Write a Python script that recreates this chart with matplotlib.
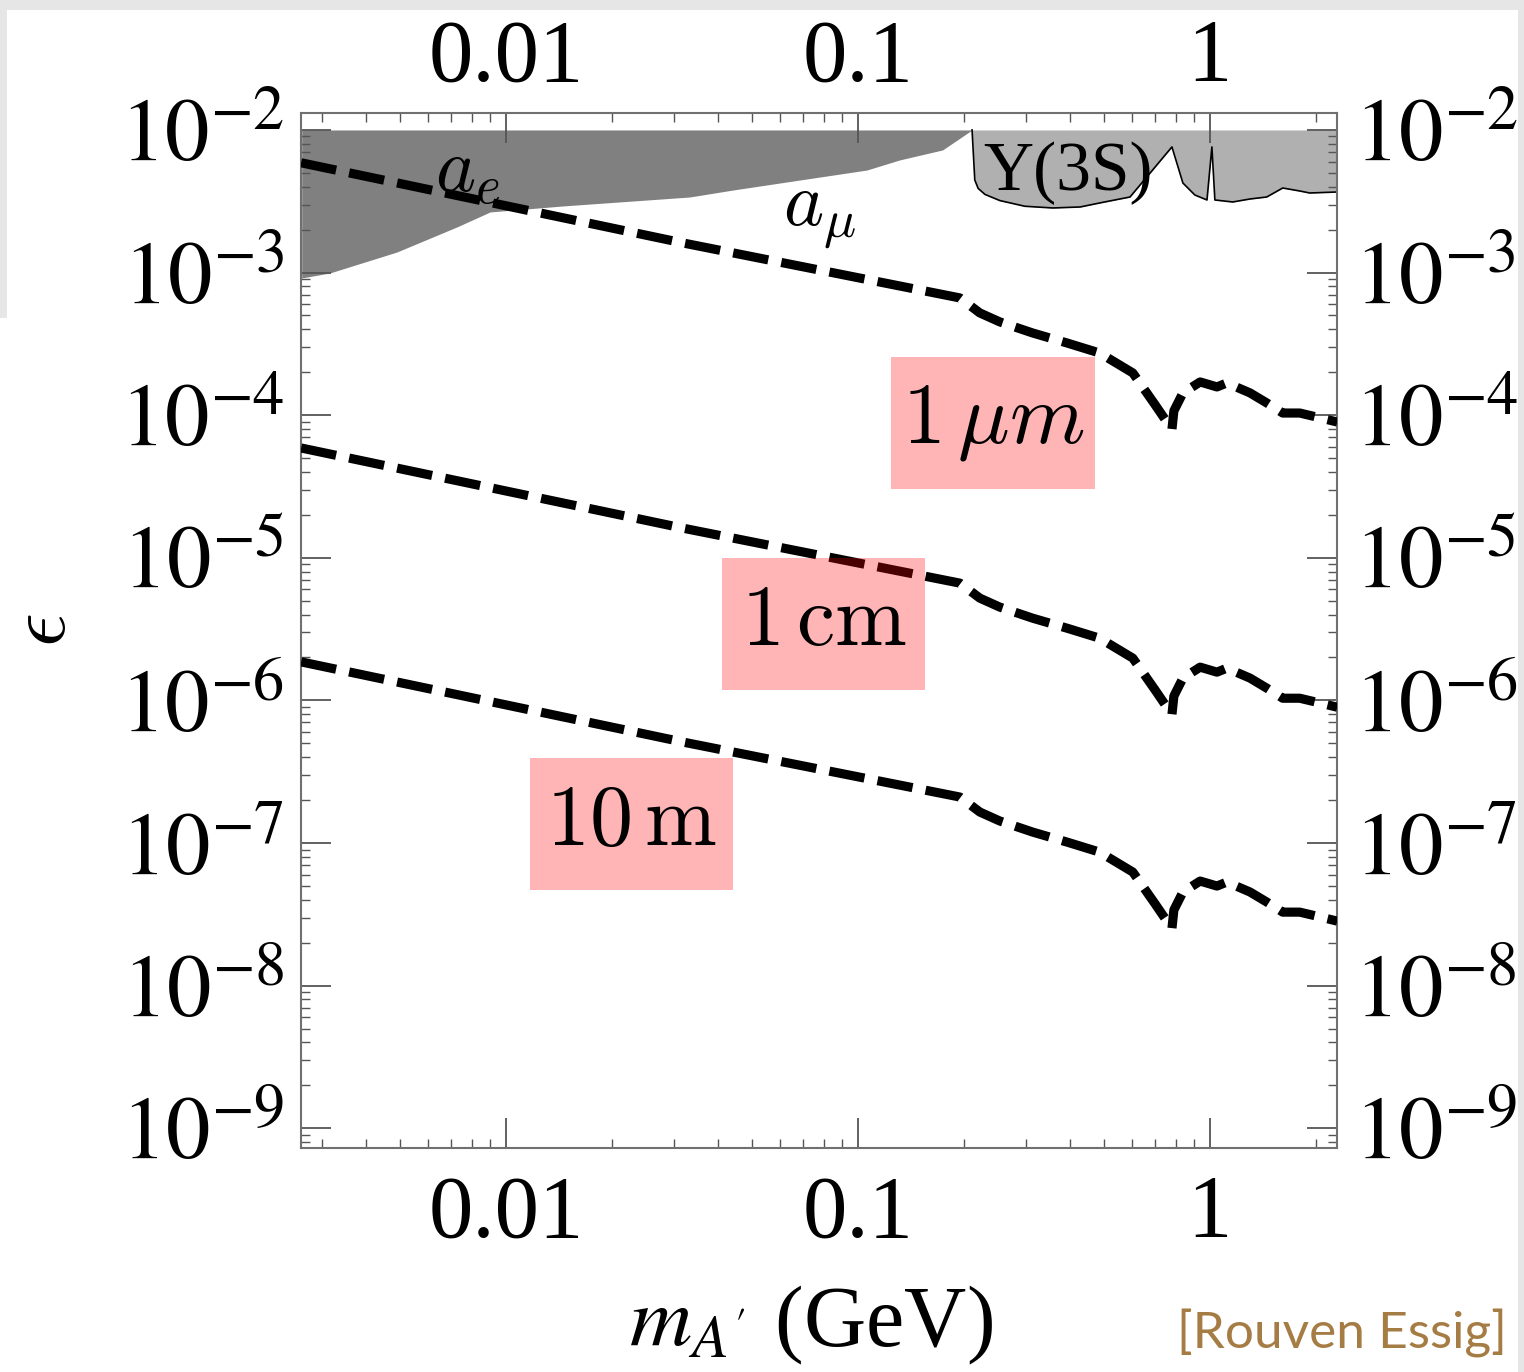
import matplotlib
matplotlib.use('Agg')
import matplotlib.pyplot as plt
import numpy as np
from matplotlib.path import Path
from matplotlib.patches import Rectangle
from matplotlib.ticker import FixedLocator, FixedFormatter, LogLocator, NullFormatter

plt.rcParams['font.family'] = ['Liberation Serif', 'DejaVu Serif']
plt.rcParams['mathtext.fontset'] = 'stix'

# ---------------- data ----------------
# dark-photon mass (GeV) sampled along the constant-decay-length curves
mass = [0.00262, 0.0318, 0.195, 0.222, 0.253, 0.314, 0.393, 0.486, 0.604,
        0.700, 0.780, 0.790, 0.838, 0.938, 1.047, 1.117, 1.30, 1.45, 1.61,
        1.80, 2.01, 2.30]
# log10(epsilon) of each curve
log_eps_1um = [-2.23, -2.792, -3.178, -3.283, -3.346, -3.424, -3.494, -3.564,
               -3.704, -3.93, -4.10, -3.97, -3.844, -3.767, -3.802, -3.774,
               -3.844, -3.914, -3.985, -3.985, -4.013, -4.048]
log_eps_1cm = [-4.23, -4.792, -5.178, -5.283, -5.346, -5.424, -5.494, -5.564,
               -5.704, -5.93, -6.10, -5.97, -5.844, -5.767, -5.802, -5.774,
               -5.844, -5.914, -5.985, -5.985, -6.013, -6.048]
log_eps_10m = [-5.73, -6.292, -6.678, -6.783, -6.846, -6.924, -6.994, -7.064,
               -7.204, -7.43, -7.60, -7.47, -7.344, -7.267, -7.302, -7.274,
               -7.344, -7.414, -7.485, -7.485, -7.513, -7.548]
curve_labels = [r'$1\,\mu m$', r'$1\,\mathrm{cm}$', r'$10\,\mathrm{m}$']

# a_e / a_mu excluded region: lower boundary
amu_mass = [0.00263, 0.00316, 0.0049, 0.00726, 0.00902, 0.0145, 0.0333,
            0.0442, 0.0684, 0.106, 0.1315, 0.174, 0.211]
amu_log_eps = [-3.038, -3.003, -2.856, -2.680, -2.575, -2.533, -2.470,
               -2.421, -2.351, -2.281, -2.210, -2.140, -2.0]

# Upsilon(3S) / other excluded region: lower boundary
ups_mass = [0.211, 0.2148, 0.2196, 0.2296, 0.253, 0.298, 0.358, 0.428, 0.486,
            0.593, 0.780, 0.838, 0.906, 0.981, 1.013, 1.033, 1.161, 1.30, 1.45,
            1.61, 1.80, 1.92, 2.30]
ups_log_eps = [-2.0, -2.351, -2.410, -2.452, -2.495, -2.535, -2.547, -2.540,
               -2.512, -2.470, -2.119, -2.372, -2.456, -2.491, -2.119, -2.491,
               -2.505, -2.484, -2.470, -2.407, -2.428, -2.442, -2.435]

x_ticks = [0.01, 0.1, 1]
x_tick_labels = ['0.01', '0.1', '1']
y_ticks = [1e-9, 1e-8, 1e-7, 1e-6, 1e-5, 1e-4, 1e-3, 1e-2]
y_tick_labels = [r'$10^{-9}$', r'$10^{-8}$', r'$10^{-7}$', r'$10^{-6}$',
                 r'$10^{-5}$', r'$10^{-4}$', r'$10^{-3}$', r'$10^{-2}$']

# ---------------- figure ----------------
W, H = 1524, 1372
fig = plt.figure(figsize=(W / 100, H / 100), dpi=100)
fig.patch.set_facecolor('white')
# light grey frame strips of the screenshot
fig.add_artist(Rectangle((0, 1 - 10 / H), 1, 10 / H, transform=fig.transFigure,
                         color='#e6e6e6', lw=0, zorder=0))
fig.add_artist(Rectangle((0, 1 - 318 / H), 7 / W, 318 / H, transform=fig.transFigure,
                         color='#e6e6e6', lw=0, zorder=0))
fig.add_artist(Rectangle((1 - 6 / W, 0), 6 / W, 1, transform=fig.transFigure,
                         color='#e6e6e6', lw=0, zorder=0))

ax = fig.add_axes([301 / W, 1 - 1148 / H, (1337 - 301) / W, (1148 - 113) / H])
ax.set_xscale('log')
ax.set_yscale('log')
ax.set_xlim(10 ** -2.582, 10 ** 0.361)
ax.set_ylim(10 ** -9.139, 10 ** -1.881)

# excluded regions
ax.fill_between(amu_mass, 10 ** np.array(amu_log_eps), 1e-2, color='#808080',
                lw=0, zorder=1)
ax.fill_between(ups_mass, 10 ** np.array(ups_log_eps), 1e-2, color='#b0b0b0',
                lw=0, zorder=1)
ax.plot(ups_mass, 10 ** np.array(ups_log_eps), color='black', lw=1.2, zorder=2)

# constant decay-length curves
for le in (log_eps_1um, log_eps_1cm, log_eps_10m):
    ax.plot(mass, 10 ** np.array(le), color='black', lw=6.6,
            linestyle=(0, (3.9, 1.45)), dash_capstyle='butt', zorder=3)


def label_box(x0, y0, width, height, mutation_size):
    s = mutation_size
    bw = 2.36 * s
    cx = x0 + width / 2
    bx0, bx1 = cx - bw / 2, cx + bw / 2
    by0, by1 = y0 - 0.30 * s, y0 + height + 0.31 * s
    return Path([(bx0, by0), (bx1, by0), (bx1, by1), (bx0, by1), (bx0, by0)],
                closed=True)


label_x = [0.242, 0.080, 0.0228]
label_log_y = [-4.195, -5.611, -7.014]
for txt, lx, ly in zip(curve_labels, label_x, label_log_y):
    ax.text(lx, 10 ** ly, txt, fontsize=62, math_fontfamily='cm', ha='center',
            va='baseline', zorder=5,
            bbox=dict(boxstyle=label_box, facecolor=(1, 0, 0, 0.29),
                      edgecolor='none'))

ax.text(0.00628, 10 ** -2.435, r'$a_e$', fontsize=55, math_fontfamily='cm',
        ha='left', va='baseline', zorder=4)
ax.text(0.0612, 10 ** -2.666, r'$a_\mu$', fontsize=55, math_fontfamily='cm',
        ha='left', va='baseline', zorder=4)
ax.text(0.2265, 10 ** -2.42, 'Υ(3S)', fontsize=50, ha='left', va='baseline',
        zorder=4)

# ticks
ax.xaxis.set_major_locator(FixedLocator(x_ticks))
ax.xaxis.set_major_formatter(FixedFormatter(x_tick_labels))
ax.yaxis.set_major_locator(FixedLocator(y_ticks))
ax.yaxis.set_major_formatter(FixedFormatter(y_tick_labels))
ax.xaxis.set_minor_locator(LogLocator(base=10, subs=np.arange(2, 10), numticks=20))
ax.yaxis.set_minor_locator(LogLocator(base=10, subs=np.arange(2, 10), numticks=20))
ax.xaxis.set_minor_formatter(NullFormatter())
ax.yaxis.set_minor_formatter(NullFormatter())
ax.tick_params(which='both', direction='in', top=True, right=True,
               color='#555555', labelsize=64)
ax.tick_params(which='major', length=21.5, width=1.3)
ax.tick_params(which='minor', length=6.5, width=1.0)
ax.tick_params(axis='y', labelright=True, pad=12)
ax.tick_params(axis='x', pad=19)
for sp in ax.spines.values():
    sp.set_color('#707070')
    sp.set_linewidth(1.5)

# top labels
secx = ax.secondary_xaxis('top')
secx.xaxis.set_major_locator(FixedLocator(x_ticks))
secx.xaxis.set_major_formatter(FixedFormatter(x_tick_labels))
secx.xaxis.set_minor_locator(FixedLocator([]))
secx.tick_params(which='both', length=0, labelsize=64, pad=10)
secx.spines['top'].set_visible(False)

# axis labels
fig.text(45 / W, 1 - 630 / H, r'$\epsilon$', fontsize=60, math_fontfamily='cm',
         rotation=90, ha='center', va='center')
fig.text(629 / W, 1 - 1346 / H, r"$m_{A'}$ (GeV)", fontsize=62, ha='left',
         va='baseline')
fig.text(1507 / W, 1 - 1348 / H, '[Rouven Essig]', fontsize=37,
         family=['Lato', 'DejaVu Sans'], color='#a67c45', ha='right',
         va='baseline')

fig.savefig('out.png', dpi=100)
